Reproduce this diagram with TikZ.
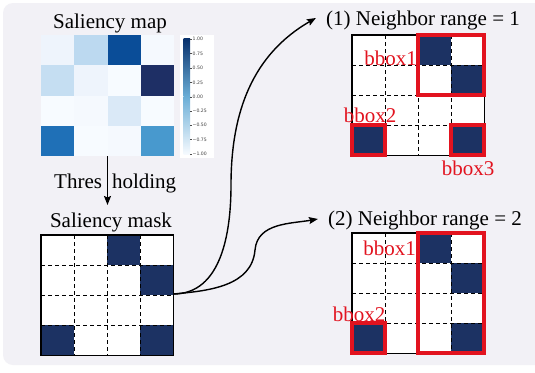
\documentclass[tikz,border=0pt]{standalone}
\usepackage{fontspec}
\setmainfont{Liberation Serif}
\newfontfamily\serifA{Liberation Serif}
\newfontfamily\cbfont{DejaVu Sans}
\usetikzlibrary{arrows.meta}
\definecolor{bgc}{HTML}{F2F1F6}
\definecolor{navy}{HTML}{1C3263}
\definecolor{bred}{HTML}{E2131F}
\definecolor{hA}{HTML}{EEF4FC}
\definecolor{hB}{HTML}{BCD9F0}
\definecolor{hC}{HTML}{0A4D98}
\definecolor{hD}{HTML}{F5F9FE}
\definecolor{hE}{HTML}{C5DEF2}
\definecolor{hF}{HTML}{F7FBFF}
\definecolor{hG}{HTML}{1E2F65}
\definecolor{hH}{HTML}{DAE9F7}
\definecolor{hI}{HTML}{1F70B7}
\definecolor{hJ}{HTML}{4899CE}
\definecolor{cbTop}{HTML}{08306B}
\definecolor{cbMidA}{HTML}{2171B5}
\definecolor{cbMid}{HTML}{6BAED6}
\definecolor{cbMidB}{HTML}{C6DBEF}
\definecolor{cbBot}{HTML}{F7FBFF}
\newcommand\cellgrid[1]{%
  \node[gridnode] (#1) at (66,60) {};
  \foreach \c/\r in {2/0,3/1,0/3,3/3} \fill[navy] (\c*33,\r*30) rectangle ++(33,30);
  \foreach \i in {1,2,3} {
    \draw[dashln] (\i*33,0) -- (\i*33,120);
    \draw[dashln] (0,\i*30) -- (132,\i*30);
  }
  \draw[gridborder] (#1.north west) rectangle (#1.south east);
}
\begin{document}
\begin{tikzpicture}[x=1pt,y=-1pt,
  lbl/.style={font=\serifA\fontsize{21}{25}\selectfont, inner sep=0pt},
  rlbl/.style={lbl, text=bred},
  gridnode/.style={fill=white, minimum width=132pt, minimum height=120pt, inner sep=0pt},
  gridborder/.style={draw=black, line width=1.4pt},
  dashln/.style={dash pattern=on 4pt off 3pt, line width=1pt},
  redbox/.style={draw=bred, line width=3.4pt},
  conn/.style={line width=1.4pt, -{Stealth[length=9pt,width=7pt,inset=1.5pt]}},
  cbtick/.style={font=\cbfont\fontsize{4.6}{5}\selectfont, anchor=west, inner sep=0pt, text=black!75}
]
\useasboundingbox (0,0) rectangle (535,372);
\clip (0,0) rectangle (535,372);
\fill[white] (0,0) rectangle (535,372);
\fill[bgc, rounded corners=10pt] (3,3) rectangle (560,365);

% titles
\node[lbl, anchor=base] (tmap) at (110,28) {Saliency map};
\node[lbl, anchor=base west] (tthr) at (54,188) {Thres\hspace{10pt}holding};
\node[lbl, anchor=base] (tmask) at (111,227) {Saliency mask};
\node[lbl, anchor=base, inner sep=2pt] (t1) at (423,25) {(1) Neighbor range = 1};
\node[lbl, anchor=base, inner sep=2pt] (t2) at (425,225) {(2) Neighbor range = 2};

% heatmap
\node[minimum width=133pt, minimum height=121pt, inner sep=0pt] (hm) at (107.5,95.5) {};
\foreach \c/\r/\col in {0/0/hA,1/0/hB,2/0/hC,3/0/hD,
                        0/1/hE,1/1/hA,2/1/hF,3/1/hG,
                        0/2/hF,1/2/hD,2/2/hH,3/2/hF,
                        0/3/hI,1/3/hF,2/3/hD,3/3/hJ}
  \fill[\col] (41+\c*33.25,35+\r*30.25) rectangle ++(33.25,30.25);

% colorbar
\fill[white] (180,35) rectangle (214,158);
\shade[top color=cbTop, middle color=cbMidA, bottom color=cbMid] (183.5,38) rectangle (190,96.5);
\shade[top color=cbMid, middle color=cbMidB, bottom color=cbBot] (183.5,96.5) rectangle (190,154.5);
\foreach \yy/\tk in {39/1.00,53.5/0.75,68/0.50,82.5/0.25,97/0.00,111/{−0.25},125/{−0.50},139.5/{−0.75},154/{−1.00}} {
  \draw[line width=0.3pt, black!70] (190,\yy) -- (191.8,\yy);
  \node[cbtick] at (192.5,\yy) {\tk};
}

% thresholding arrow
\coordinate (thtip) at (107,205);
\draw[conn] (hm.south) -- (hm.south |- thtip);

% saliency mask grid
\begin{scope}[shift={(41,235)}]
  \cellgrid{mask}
\end{scope}

% grid 1
\begin{scope}[shift={(352,35)}]
  \cellgrid{ga}
  \draw[redbox] (66,0) rectangle (132,60);
  \draw[redbox] (0,90) rectangle (33,120);
  \draw[redbox] (99,90) rectangle (132,120);
\end{scope}
\node[rlbl, anchor=base east] (b11) at (417,65) {bbox1};
\node[rlbl, anchor=base] (b12) at (370,122) {bbox2};
\node[rlbl, anchor=base] (b13) at (468,175) {bbox3};

% grid 2
\begin{scope}[shift={(352,233)}]
  \cellgrid{gb}
  \draw[redbox] (66,0) rectangle (132,120);
  \draw[redbox] (0,90) rectangle (33,120);
\end{scope}
\node[rlbl, anchor=base east] (b21) at (416,255) {bbox1};
\node[rlbl, anchor=base] (b22) at (359,321) {bbox2};

% connectors
\coordinate (mstart) at ([yshift=1pt]mask.east);
\coordinate (mid1) at (231,185);
\coordinate (mid2) at (255,250);
\draw[conn] (mstart) to[out=0,in=-90] (mid1) to[out=90,in=210] ([xshift=-8pt,yshift=2pt]t1.west);
\draw[conn] (mstart) to[out=5,in=-95] (mid2) to[out=85,in=190] ([xshift=-8pt,yshift=1pt]t2.west);
\end{tikzpicture}
\end{document}
